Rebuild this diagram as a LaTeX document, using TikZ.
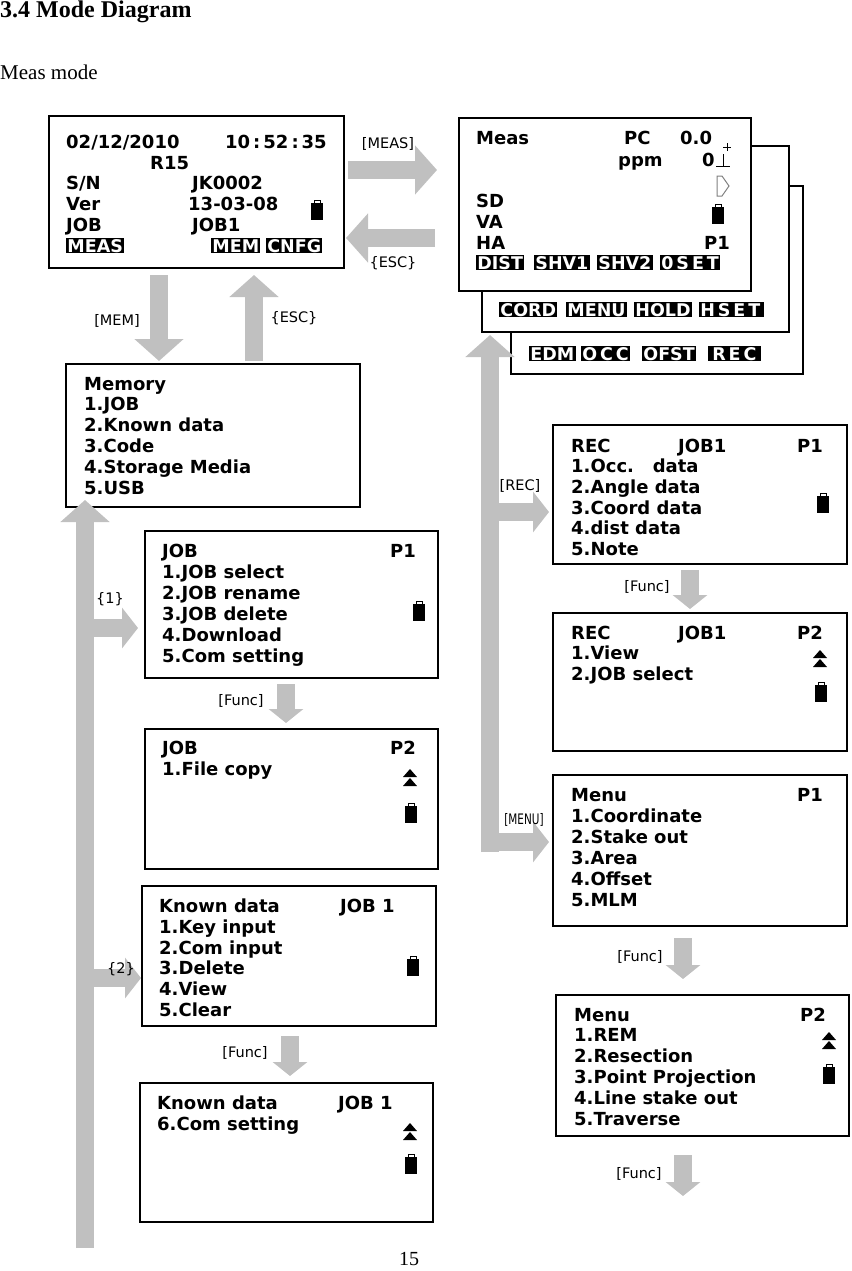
\documentclass[tikz,border=0pt]{standalone}
\usepackage{fontspec}
\setmainfont{DejaVu Sans}
\newfontfamily\ttl{Liberation Serif}
\usetikzlibrary{arrows.meta}
\definecolor{ag}{RGB}{192,192,192}
\newcommand\battico[2]{\draw[line width=0.8pt] (#1-3,#2-10) rectangle (#1+3,#2-7);\fill (#1-6,#2-7) rectangle (#1+6,#2+10);}
\newcommand\dupico[2]{\fill (#1-7,#2) -- (#1,#2-8) -- (#1+7,#2) -- cycle; \fill (#1-7,#2+9) -- (#1,#2+1) -- (#1+7,#2+9) -- cycle;}
\begin{document}
\begin{tikzpicture}[x=1pt,y=-1pt,
  box/.style={draw,line width=2pt,fill=white},
  t/.style={anchor=base west,inner sep=0pt,font=\fontsize{18}{21}\bfseries\selectfont},
  inv/.style={anchor=base west,fill=black,text=white,inner sep=1.2pt,font=\fontsize{17.5}{20}\bfseries\selectfont},
  lbl/.style={inner sep=0pt,font=\fontsize{14.5}{17}\selectfont},
  garrow/.style={draw=ag,line width=18pt,-{Triangle[width=48pt,length=22pt]}},
  sarrow/.style={draw=ag,line width=18pt,-{Triangle[width=40pt,length=16pt]}},
  farrow/.style={draw=ag,line width=18pt,-{Triangle[width=34pt,length=14pt]}}]
\useasboundingbox (0,0) rectangle (851,1271);
\node[anchor=base west,inner sep=0pt,font=\ttl\fontsize{24}{28}\bfseries\selectfont] (title) at (0,18) {3.4 Mode Diagram};
\node[anchor=base west,inner sep=0pt,font=\ttl\fontsize{21}{24}\selectfont] (sub) at (0,80) {Meas mode};
\node[anchor=base,inner sep=0pt,font=\ttl\fontsize{20}{24}\selectfont] (pg) at (409,1265) {15};

% Top-left screen
\draw[box] (49,116) rectangle (344,268);
\node[t] (a1) at (66,148) {02/12/2010};
\node[t] at (225,148) {10\,:\,52\,:\,35};
\node[t] (a2) at (150,169) {R15};
\node[t] (a3) at (66,189) {S/N}; \node[t] at (192,189) {JK0002};
\node[t] (a4) at (66,210) {Ver}; \node[t] at (188,210) {13-03-08};
\node[t] (a5) at (66,231) {JOB}; \node[t] at (192,231) {JOB1};
\node[inv] (mmeas) at (66,252) {MEAS}; \node[inv] at (211,252) {MEM}; \node[inv] at (266,252) {CNFG};
\battico{317}{210}

% Meas stack
\draw[box] (511,186) rectangle (803,374);
\draw[box] (482,146) rectangle (789,332);
\draw[box] (459,118) rectangle (751,291);
\node[t] (m1) at (476,145) {Meas}; \node[t] at (624,145) {PC}; \node[t] at (680,145) {0.0};
\node[t] at (618,166) {ppm}; \node[t] at (702,166) {0};
\draw[line width=0.8pt] (716,166) -- (730,166) (723,166) -- (723,154);
\draw[line width=0.5pt] (727,143)--(727,151) (723,147)--(731,147);
\draw[gray,line width=1pt] (717,176) -- (722,176) -- (729,186) -- (722,196) -- (717,196) -- cycle;
\node[t] at (476,207) {SD}; \node[t] at (476,228) {VA}; \node[t] at (476,249) {HA}; \node[t] at (704,249) {P1};
\battico{718}{214}
\node[inv] (d1) at (476,269) {DIST}; \node[inv] at (534,269) {SHV1}; \node[inv] at (597,269) {SHV2}; \node[inv] at (660,269) {0\,S\,E\,T};
\node[inv] (c1) at (499,316) {CORD}; \node[inv] at (566,316) {MENU}; \node[inv] at (634,316) {HOLD}; \node[inv] at (699,316) {H\,S\,E\,T\,};
\node[inv] (e1) at (529,360) {EDM}; \node[inv] at (581,360) {O\,C\,C}; \node[inv] at (642,360) {OFST}; \node[inv] at (708,360) {\,R\,E\,C\,};

% arrows top
\coordinate (ma0) at (348,170); \coordinate (ma1) at (437,170);
\draw[garrow] (ma0) -- (ma1);
\node[lbl] at (388,144) {[MEAS]};
\coordinate (ea0) at (435,238); \coordinate (ea1) at (346,238);
\draw[garrow] (ea0) -- (ea1);
\node[lbl] at (393,263) {\{ESC\}};
\coordinate (mm0) at (159,275); \coordinate (mm1) at (159,361);
\draw[garrow] (mm0) -- (mm1);
\node[lbl] at (117,321) {[MEM]};
\coordinate (es0) at (254,361); \coordinate (es1) at (254,275);
\draw[garrow] (es0) -- (es1);
\node[lbl] at (294,318) {\{ESC\}};

% Memory
\draw[box] (66,364) rectangle (360,507);
\node[t] (mem) at (84,390) {Memory};
\node[t] at (84,410) {1.JOB};
\node[t] at (84,431) {2.Known data};
\node[t] at (84,452) {3.Code};
\node[t] at (84,473) {4.Storage Media};
\node[t] at (84,494) {5.USB};

% left bar
\coordinate (lb0) at (85,1248); \coordinate (lb1) at (85,500);
\draw[garrow] (lb0) -- (lb1);
\coordinate (b1a) at (85,628); \coordinate (b1b) at (138,628);
\draw[sarrow] (b1a) -- (b1b);
\node[lbl] at (110,599) {\{1\}};
\coordinate (b2a) at (85,978); \coordinate (b2b) at (141,978);
\draw[sarrow] (b2a) -- (b2b);
\node[lbl] at (121,969) {\{2\}};

% JOB P1
\draw[box] (145,531) rectangle (438,678);
\node[t] (j1) at (162,557) {JOB}; \node[t] at (390,557) {P1};
\node[t] at (162,578) {1.JOB select};
\node[t] at (162,599) {2.JOB rename};
\node[t] at (162,620) {3.JOB delete};
\node[t] at (162,641) {4.Download};
\node[t] at (162,662) {5.Com setting};
\battico{419}{611}
\coordinate (f1a) at (286,684); \coordinate (f1b) at (286,723);
\draw[farrow] (f1a) -- (f1b);
\node[lbl] at (241,701) {[Func]};
% JOB P2
\draw[box] (145,729) rectangle (438,869);
\node[t] (j2) at (162,754) {JOB}; \node[t] at (390,754) {P2};
\node[t] at (162,775) {1.File copy};
\dupico{410}{777} \battico{411}{813}

% Known data
\draw[box] (142,886) rectangle (436,1026);
\node[t] (k1) at (159,912) {Known data}; \node[t] at (340,912) {JOB 1};
\node[t] at (159,933) {1.Key input};
\node[t] at (159,954) {2.Com input};
\node[t] at (159,974) {3.Delete};
\node[t] at (159,995) {4.View};
\node[t] at (159,1016) {5.Clear};
\battico{413}{966}
\coordinate (f2a) at (290,1036); \coordinate (f2b) at (290,1076);
\draw[farrow] (f2a) -- (f2b);
\node[lbl] at (245,1053) {[Func]};
\draw[box] (140,1083) rectangle (433,1222);
\node[t] (k2) at (157,1109) {Known data}; \node[t] at (338,1109) {JOB 1};
\node[t] at (157,1130) {6.Com setting};
\dupico{410}{1131} \battico{411}{1164}

% right bar
\coordinate (rb0) at (490,852); \coordinate (rb1) at (490,335);
\draw[garrow] (rb0) -- (rb1);
\coordinate (r1a) at (490,512); \coordinate (r1b) at (549,512);
\draw[sarrow] (r1a) -- (r1b);
\node[lbl] at (520,486) {[REC]};
\coordinate (r2a) at (490,842); \coordinate (r2b) at (549,842);
\draw[sarrow] (r2a) -- (r2b);
\node[lbl,xscale=0.72] at (524,820) {[MENU]};

% REC P1
\draw[box] (553,425) rectangle (847,564);
\node[t] (r1) at (571,452) {REC}; \node[t] at (678,452) {JOB1}; \node[t] at (797,452) {P1};
\node[t] at (571,472) {1.Occ.\ \ \ data};
\node[t] at (571,493) {2.Angle data};
\node[t] at (571,514) {3.Coord data};
\node[t] at (571,534) {4.dist data};
\node[t] at (571,555) {5.Note};
\battico{823}{503}
\coordinate (f3a) at (690,570); \coordinate (f3b) at (690,609);
\draw[farrow] (f3a) -- (f3b);
\node[lbl] at (647,587) {[Func]};
\draw[box] (553,613) rectangle (847,751);
\node[t] (r2) at (571,639) {REC}; \node[t] at (678,639) {JOB1}; \node[t] at (797,639) {P2};
\node[t] at (571,659) {1.View};
\node[t] at (571,680) {2.JOB select};
\dupico{820}{658} \battico{821}{692}

% Menu P1
\draw[box] (553,775) rectangle (847,926);
\node[t] (n1) at (571,801) {Menu}; \node[t] at (797,801) {P1};
\node[t] at (571,822) {1.Coordinate};
\node[t] at (571,843) {2.Stake out};
\node[t] at (571,864) {3.Area};
\node[t] at (571,885) {4.Offset};
\node[t] at (571,906) {5.MLM};
\coordinate (f4a) at (683,938); \coordinate (f4b) at (683,979);
\draw[farrow] (f4a) -- (f4b);
\node[lbl] at (640,957) {[Func]};
\draw[box] (556,995) rectangle (849,1136);
\node[t] (n2) at (574,1021) {Menu}; \node[t] at (800,1021) {P2};
\node[t] at (574,1041) {1.REM};
\node[t] at (574,1062) {2.Resection};
\node[t] at (574,1083) {3.Point Projection};
\node[t] at (574,1104) {4.Line stake out};
\node[t] at (574,1125) {5.Traverse};
\dupico{829}{1040} \battico{829}{1074}
\coordinate (f5a) at (683,1155); \coordinate (f5b) at (683,1196);
\draw[farrow] (f5a) -- (f5b);
\node[lbl] at (639,1174) {[Func]};
\end{tikzpicture}
\end{document}
